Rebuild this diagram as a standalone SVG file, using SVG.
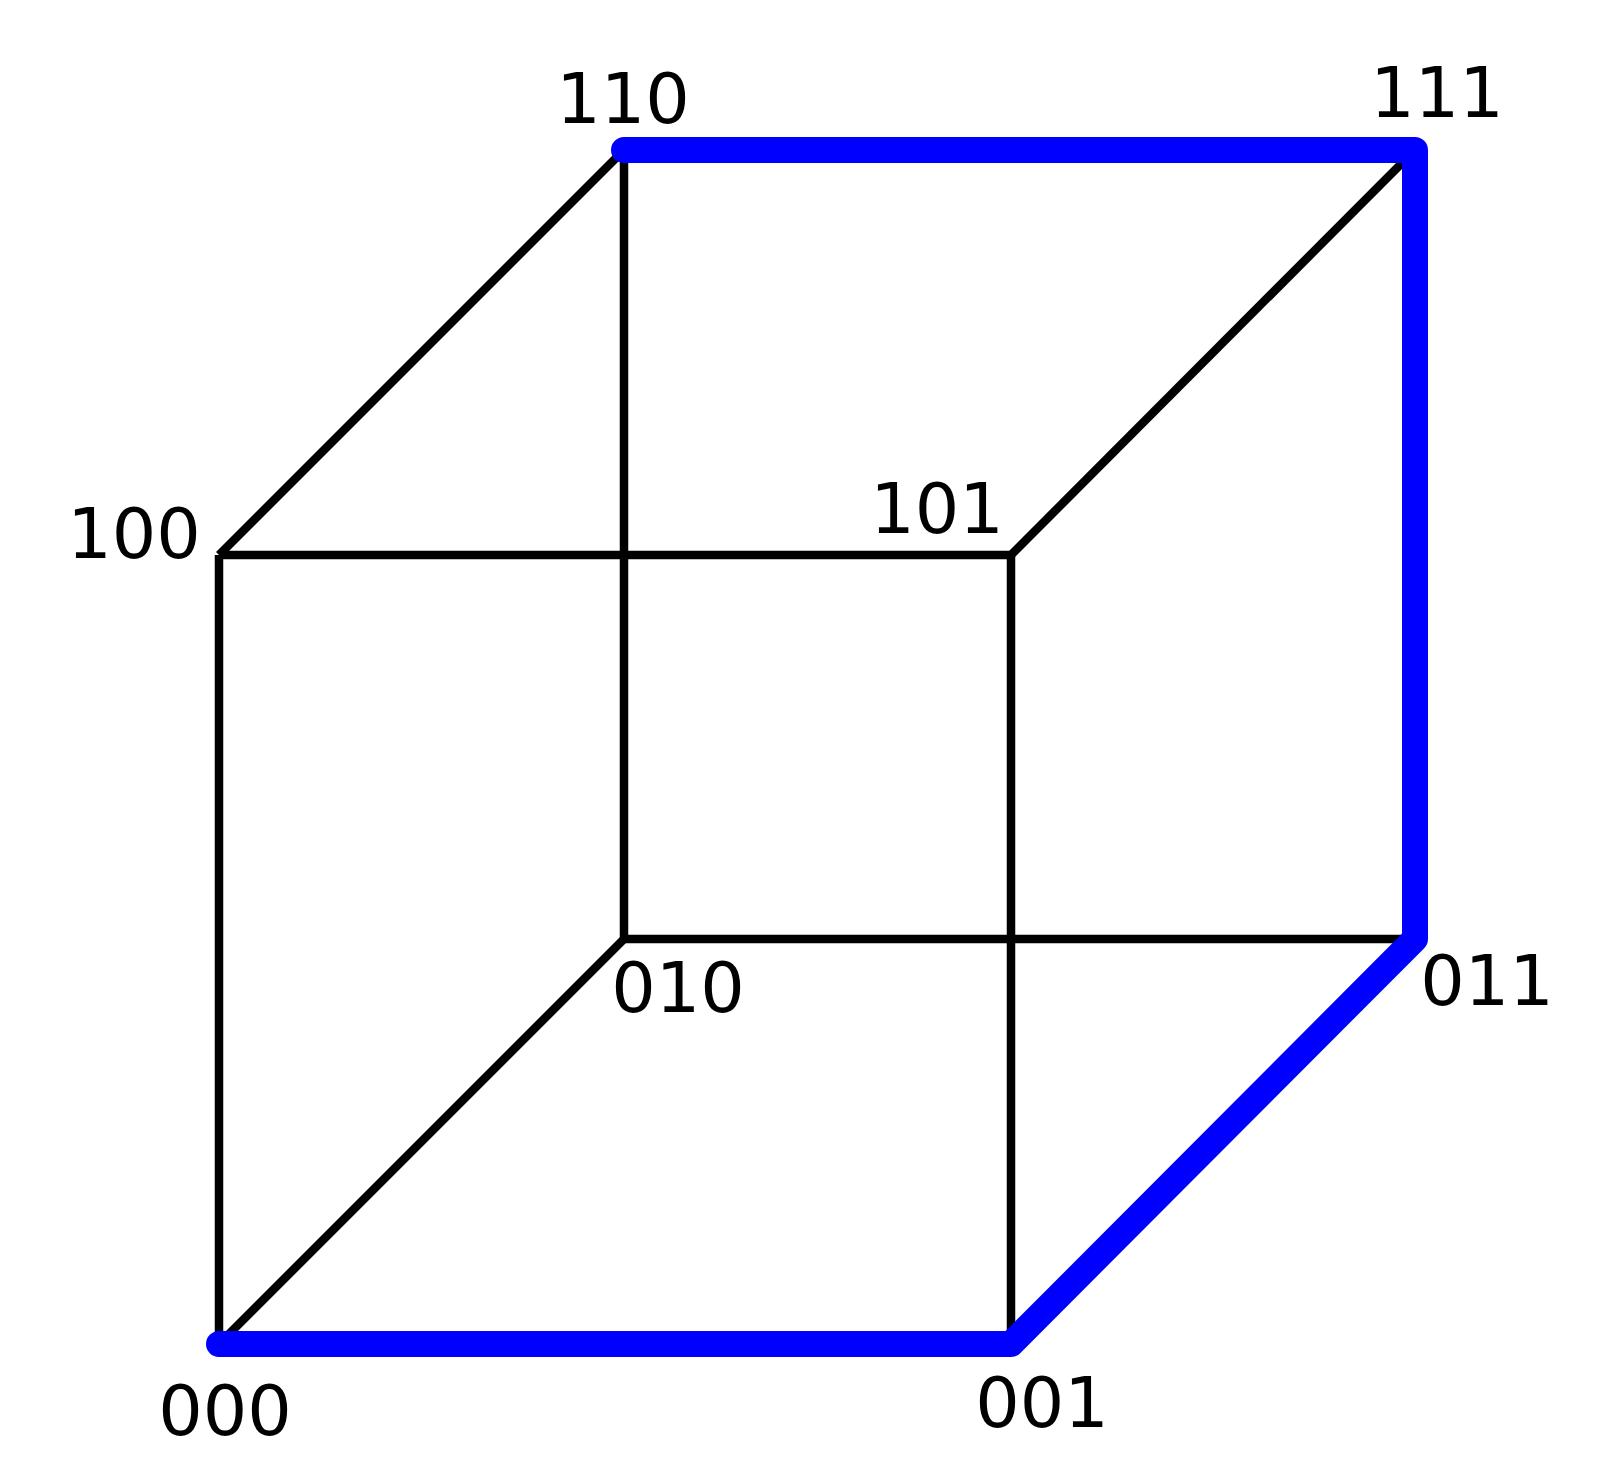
<svg xmlns="http://www.w3.org/2000/svg" width="1624" height="1482" viewBox="0 0 1624 1482">
<style>
.e{stroke:#000;stroke-width:8.5;fill:none;stroke-linecap:butt}
.p{stroke:#0000ff;stroke-width:26;fill:none;stroke-linecap:round;stroke-linejoin:round}
.t{font-family:"DejaVu Sans",sans-serif;font-size:70px;fill:#000;text-anchor:middle}
</style>
<rect width="1624" height="1482" fill="#fff"/>
<g id="connectors">
<line class="e" x1="219" y1="555" x2="1011" y2="555"/>
<line class="e" x1="219" y1="555" x2="219" y2="1344"/>
<line class="e" x1="1011" y1="555" x2="1011" y2="1344"/>
<line class="e" x1="219" y1="1344" x2="1011" y2="1344"/>
<line class="e" x1="624" y1="150" x2="1415" y2="150"/>
<line class="e" x1="624" y1="150" x2="624" y2="939"/>
<line class="e" x1="1415" y1="150" x2="1415" y2="939"/>
<line class="e" x1="624" y1="939" x2="1415" y2="939"/>
<line class="e" x1="219" y1="555" x2="624" y2="150"/>
<line class="e" x1="1011" y1="555" x2="1415" y2="150"/>
<line class="e" x1="219" y1="1344" x2="624" y2="939"/>
<line class="e" x1="1011" y1="1344" x2="1415" y2="939"/>
<polyline class="p" points="219,1344 1011,1344 1415,939 1415,150 624,150"/>
</g>
<g id="n000"><text class="t" x="225" y="1435">000</text></g>
<g id="n001"><text class="t" x="1042" y="1427">001</text></g>
<g id="n010"><text class="t" x="678" y="1012">010</text></g>
<g id="n011"><text class="t" x="1487" y="1005">011</text></g>
<g id="n100"><text class="t" x="134" y="558">100</text></g>
<g id="n101"><text class="t" x="937" y="533">101</text></g>
<g id="n110"><text class="t" x="623" y="123">110</text></g>
<g id="n111"><text class="t" x="1437" y="117">111</text></g>
</svg>
